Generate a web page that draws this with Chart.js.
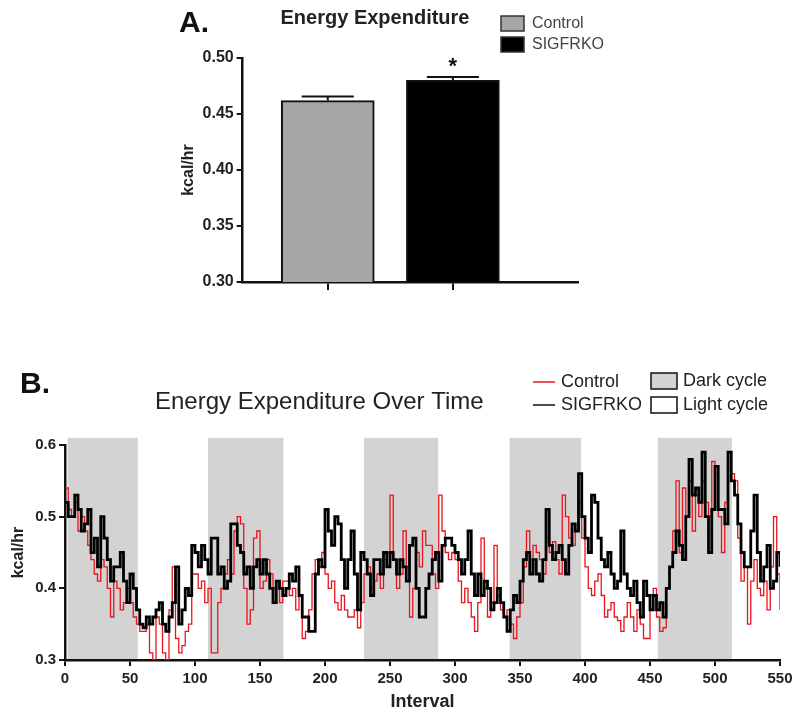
<!DOCTYPE html>
<html>
<head>
<meta charset="utf-8">
<script src="https://cdn.jsdelivr.net/npm/chart.js@4.4.1/dist/chart.umd.min.js"></script>
<style>
    html, body { margin: 0; padding: 0; background: #fff; }
    #wrap { position: relative; width: 800px; height: 716px; }
    #bar-wrap { position: absolute; left: 0; top: 0; width: 800px; height: 360px; }
    #line-wrap { position: absolute; left: 0; top: 360px; width: 800px; height: 356px; }
</style>
</head>
<body>
<div id="wrap">
    <div id="bar-wrap"><canvas id="bar-chart"></canvas></div>
    <div id="line-wrap"><canvas id="line-chart"></canvas></div>
</div>
<script>
// --- Panel A: mean energy expenditure ---
const GROUPS = ['Control', 'SIGFRKO'];
const GROUP_MEANS = [0.462, 0.480];
const GROUP_SEM = [0.0037, 0.0030];
const GROUP_FILLS = ['#a6a6a6', '#000000'];
const BAR_TICKS = [0.30, 0.35, 0.40, 0.45, 0.50];

// --- Panel B: energy expenditure over time (read every 2.5 intervals) ---
const INTERVAL_STEP = 2.5;
const SIGFRKO_SERIES = [
    0.52, 0.50, 0.50, 0.53, 0.51, 0.48, 0.49, 0.51, 0.45, 0.47,
    0.43, 0.50, 0.47, 0.44, 0.41, 0.43, 0.43, 0.45, 0.41, 0.38,
    0.42, 0.40, 0.37, 0.35, 0.345, 0.36, 0.35, 0.36, 0.37, 0.38,
    0.35, 0.34, 0.36, 0.38, 0.43, 0.35, 0.37, 0.40, 0.39, 0.46,
    0.45, 0.43, 0.46, 0.44, 0.42, 0.47, 0.47, 0.42, 0.43, 0.40,
    0.41, 0.49, 0.49, 0.46, 0.45, 0.42, 0.43, 0.40, 0.43, 0.44,
    0.42, 0.44, 0.42, 0.40, 0.38, 0.41, 0.40, 0.39, 0.40, 0.42,
    0.41, 0.43, 0.39, 0.36, 0.36, 0.34, 0.34, 0.42, 0.44, 0.43,
    0.51, 0.48, 0.46, 0.50, 0.49, 0.44, 0.40, 0.44, 0.48, 0.42,
    0.37, 0.45, 0.44, 0.42, 0.39, 0.44, 0.44, 0.42, 0.45, 0.43,
    0.45, 0.44, 0.42, 0.44, 0.43, 0.41, 0.46, 0.47, 0.40, 0.36,
    0.36, 0.40, 0.42, 0.44, 0.45, 0.41, 0.46, 0.47, 0.47, 0.46,
    0.45, 0.44, 0.42, 0.44, 0.48, 0.42, 0.39, 0.42, 0.39, 0.41,
    0.40, 0.37, 0.38, 0.40, 0.38, 0.36, 0.34, 0.37, 0.39, 0.38,
    0.41, 0.44, 0.45, 0.42, 0.44, 0.42, 0.41, 0.44, 0.51, 0.46,
    0.44, 0.45, 0.46, 0.44, 0.42, 0.46, 0.49, 0.48, 0.56, 0.50,
    0.47, 0.45, 0.53, 0.52, 0.47, 0.44, 0.43, 0.45, 0.42, 0.40,
    0.41, 0.48, 0.42, 0.40, 0.39, 0.41, 0.38, 0.36, 0.41, 0.39,
    0.37, 0.39, 0.37, 0.38, 0.36, 0.40, 0.43, 0.45, 0.48, 0.46,
    0.44, 0.50, 0.58, 0.53, 0.54, 0.52, 0.59, 0.50, 0.45, 0.51,
    0.57, 0.51, 0.51, 0.49, 0.59, 0.55, 0.53, 0.49, 0.45, 0.43,
    0.43, 0.48, 0.53, 0.45, 0.41, 0.43, 0.46, 0.40, 0.41, 0.45,
    0.43
];
const CONTROL_SERIES = [
    0.54, 0.51, 0.50, 0.52, 0.48, 0.50, 0.48, 0.46, 0.44, 0.42,
    0.41, 0.44, 0.43, 0.40, 0.36, 0.41, 0.40, 0.37, 0.38, 0.40,
    0.38, 0.36, 0.35, 0.34, 0.34, 0.35, 0.31, 0.30, 0.36, 0.35,
    0.31, 0.30, 0.37, 0.43, 0.33, 0.31, 0.32, 0.34, 0.35, 0.42,
    0.42, 0.40, 0.41, 0.38, 0.40, 0.31, 0.31, 0.38, 0.40, 0.42,
    0.44, 0.42, 0.48, 0.50, 0.49, 0.40, 0.35, 0.37, 0.47, 0.48,
    0.40, 0.41, 0.44, 0.42, 0.40, 0.41, 0.38, 0.41, 0.41, 0.39,
    0.40, 0.37, 0.39, 0.33, 0.34, 0.37, 0.42, 0.44, 0.43, 0.45,
    0.42, 0.40, 0.41, 0.38, 0.37, 0.39, 0.37, 0.36, 0.36, 0.37,
    0.345, 0.38, 0.42, 0.43, 0.40, 0.41, 0.42, 0.40, 0.44, 0.45,
    0.53, 0.44, 0.40, 0.42, 0.48, 0.43, 0.36, 0.40, 0.45, 0.43,
    0.48, 0.46, 0.46, 0.42, 0.40, 0.53, 0.48, 0.45, 0.44, 0.45,
    0.44, 0.41, 0.38, 0.40, 0.38, 0.36, 0.34, 0.38, 0.47, 0.40,
    0.36, 0.38, 0.46, 0.39, 0.37, 0.36, 0.37, 0.35, 0.33, 0.36,
    0.38, 0.43, 0.48, 0.44, 0.46, 0.45, 0.44, 0.42, 0.47, 0.45,
    0.465, 0.44, 0.42, 0.53, 0.50, 0.47, 0.46, 0.48, 0.52, 0.47,
    0.43, 0.40, 0.39, 0.41, 0.42, 0.39, 0.36, 0.37, 0.38, 0.36,
    0.355, 0.34, 0.36, 0.38, 0.36, 0.34, 0.37, 0.35, 0.33, 0.33,
    0.39, 0.40, 0.36, 0.34, 0.345, 0.40, 0.43, 0.48, 0.55, 0.45,
    0.54, 0.50, 0.55, 0.48, 0.53, 0.50, 0.55, 0.52, 0.50, 0.577,
    0.56, 0.50, 0.45, 0.52, 0.59, 0.56, 0.55, 0.47, 0.41, 0.43,
    0.35, 0.41, 0.44, 0.40, 0.39, 0.41, 0.37, 0.43, 0.50, 0.42,
    0.37
];
const DARK_START = [2, 110, 230, 342, 456];
const DARK_END = [56, 168, 287, 397, 513];
const DARK_TOP = 0.61;
const LINE_Y_TICKS = [0.3, 0.4, 0.5, 0.6];
const LINE_X_MAX = 550;

const FONT = "'Liberation Sans', Arial, sans-serif";
const INK = '#111';

// error bars, asterisk, title, legend and panel letter for A
const panelAExtras = {
    id: 'panelAExtras',
    afterDraw(chart) {
        const { ctx } = chart;
        const yScale = chart.scales.y;
        ctx.save();
        ctx.strokeStyle = INK;
        ctx.lineWidth = 2;
        GROUPS.forEach((g, i) => {
            const bar = chart.getDatasetMeta(i).data[0];
            const yMean = yScale.getPixelForValue(GROUP_MEANS[i]);
            const yErr = yScale.getPixelForValue(GROUP_MEANS[i] + GROUP_SEM[i]);
            const half = bar.width * 0.28;
            ctx.beginPath();
            ctx.moveTo(bar.x, yMean);
            ctx.lineTo(bar.x, yErr);
            ctx.moveTo(bar.x - half, yErr);
            ctx.lineTo(bar.x + half, yErr);
            ctx.stroke();
            if (g === 'SIGFRKO') {
                ctx.fillStyle = INK;
                ctx.font = `bold 22px ${FONT}`;
                ctx.textAlign = 'center';
                ctx.textBaseline = 'middle';
                ctx.fillText('*', bar.x, yErr - 10);
            }
        });

        ctx.fillStyle = '#111';
        ctx.textBaseline = 'alphabetic';
        ctx.textAlign = 'left';
        ctx.font = `bold 30px ${FONT}`;
        ctx.fillText('A.', 179, 32);

        ctx.textAlign = 'center';
        ctx.font = `bold 20px ${FONT}`;
        ctx.fillStyle = '#222';
        ctx.fillText('Energy Expenditure', 375, 24);

        // legend
        ctx.textAlign = 'left';
        ctx.textBaseline = 'middle';
        ctx.font = `16px ${FONT}`;
        GROUPS.forEach((g, i) => {
            const top = 16 + i * 21;
            ctx.fillStyle = GROUP_FILLS[i];
            ctx.fillRect(501, top, 23, 15);
            ctx.lineWidth = 1.5;
            ctx.strokeStyle = '#333';
            ctx.strokeRect(501, top, 23, 15);
            ctx.fillStyle = '#444';
            ctx.fillText(g, 532, top + 8);
        });
        ctx.restore();
    }
};

new Chart(document.getElementById('bar-chart'), {
    type: 'bar',
    data: {
        datasets: GROUPS.map((g, i) => ({
            label: g,
            data: [{ x: i + 1, y: [BAR_TICKS[0], GROUP_MEANS[i]] }],
            backgroundColor: GROUP_FILLS[i],
            borderColor: INK,
            borderWidth: 2,
            borderSkipped: 'start',
            barThickness: 93,
            grouped: false
        }))
    },
    options: {
        responsive: true, maintainAspectRatio: false, animation: false,
        layout: { padding: { left: 179, right: 222, top: 58, bottom: 66 } },
        plugins: { legend: { display: false }, tooltip: { enabled: false } },
        scales: {
            x: {
                type: 'linear', min: 0.32, max: 3.0, offset: false,
                afterBuildTicks: s => { s.ticks = GROUPS.map((g, i) => ({ value: i + 1 })); },
                afterFit: s => { s.height = 12; },
                ticks: { callback: () => '' },
                grid: { offset: false, drawOnChartArea: false, tickLength: 8, color: INK, lineWidth: 2 },
                border: { color: INK, width: 2.5 }
            },
            y: {
                min: BAR_TICKS[0], max: BAR_TICKS[BAR_TICKS.length - 1],
                afterBuildTicks: s => { s.ticks = BAR_TICKS.map(v => ({ value: v })); },
                afterFit: s => { s.width = 63.7; },
                ticks: {
                    callback: v => v.toFixed(2),
                    color: '#222', padding: 3,
                    font: { family: FONT, size: 16, weight: 'bold' }
                },
                grid: { drawOnChartArea: false, tickLength: 6, color: INK, lineWidth: 2 },
                border: { color: INK, width: 2.5 },
                title: {
                    display: true, text: 'kcal/hr', color: '#222',
                    padding: { top: 0, bottom: 0 },
                    font: { family: FONT, size: 16, weight: 'bold' }
                }
            }
        }
    },
    plugins: [panelAExtras]
});

// dark cycle shading drawn under the axes and lines
const darkCycles = {
    id: 'darkCycles',
    beforeDraw(chart) {
        const { ctx, scales: { x, y } } = chart;
        ctx.save();
        ctx.fillStyle = '#d3d3d3';
        DARK_START.forEach((start, i) => {
            const x1 = x.getPixelForValue(start);
            const x2 = x.getPixelForValue(DARK_END[i]);
            const y1 = y.getPixelForValue(DARK_TOP);
            const y2 = y.getPixelForValue(LINE_Y_TICKS[0]);
            ctx.fillRect(x1, y1, x2 - x1, y2 - y1);
        });
        ctx.restore();
    }
};

// title, legend and panel letter for B
const panelBExtras = {
    id: 'panelBExtras',
    afterDraw(chart) {
        const { ctx } = chart;
        ctx.save();
        ctx.fillStyle = '#111';
        ctx.textAlign = 'left';
        ctx.textBaseline = 'alphabetic';
        ctx.font = `bold 30px ${FONT}`;
        ctx.fillText('B.', 20, 33);

        ctx.textBaseline = 'middle';
        ctx.font = `24px ${FONT}`;
        ctx.fillStyle = '#222';
        ctx.fillText('Energy Expenditure Over Time', 155, 42);

        ctx.font = `18px ${FONT}`;
        const lines = [
            { label: 'Control', color: '#e8141b', width: 1.5 },
            { label: 'SIGFRKO', color: '#111', width: 1.5 }
        ];
        lines.forEach((l, i) => {
            const yy = 22 + i * 23;
            ctx.strokeStyle = l.color;
            ctx.lineWidth = l.width;
            ctx.beginPath();
            ctx.moveTo(533, yy);
            ctx.lineTo(555, yy);
            ctx.stroke();
            ctx.fillStyle = '#222';
            ctx.fillText(l.label, 561, yy);
        });
        const boxes = [
            { label: 'Dark cycle', fill: '#d3d3d3' },
            { label: 'Light cycle', fill: '#ffffff' }
        ];
        boxes.forEach((b, i) => {
            const top = 13 + i * 24;
            ctx.fillStyle = b.fill;
            ctx.fillRect(651, top, 26, 16);
            ctx.strokeStyle = '#111';
            ctx.lineWidth = 1.5;
            ctx.strokeRect(651, top, 26, 16);
            ctx.fillStyle = '#222';
            ctx.fillText(b.label, 683, top + 8);
        });
        ctx.restore();
    }
};

const toPoints = series => series.map((v, i) => ({ x: i * INTERVAL_STEP, y: v }));

new Chart(document.getElementById('line-chart'), {
    type: 'line',
    data: {
        datasets: [
            {
                label: 'SIGFRKO', data: toPoints(SIGFRKO_SERIES),
                borderColor: '#000', borderWidth: 2.8, pointRadius: 0,
                stepped: true, order: 0
            },
            {
                label: 'Control', data: toPoints(CONTROL_SERIES),
                borderColor: '#e8141b', borderWidth: 1.3, pointRadius: 0,
                stepped: true, order: 1
            }
        ]
    },
    options: {
        responsive: true, maintainAspectRatio: false, animation: false,
        layout: { padding: { left: 0, right: 20, top: 85, bottom: 0 } },
        plugins: { legend: { display: false }, tooltip: { enabled: false } },
        scales: {
            x: {
                type: 'linear', min: 0, max: LINE_X_MAX,
                ticks: {
                    stepSize: 50, color: '#222', padding: 4,
                    font: { family: FONT, size: 15, weight: 'bold' }
                },
                afterFit: s => { s.height = 56; },
                grid: { drawOnChartArea: false, tickLength: 6, color: INK, lineWidth: 2 },
                border: { color: INK, width: 2.5 },
                title: {
                    display: true, text: 'Interval', color: '#222',
                    padding: { top: 0, bottom: 3 },
                    font: { family: FONT, size: 18, weight: 'bold' }
                }
            },
            y: {
                min: LINE_Y_TICKS[0], max: LINE_Y_TICKS[LINE_Y_TICKS.length - 1],
                afterBuildTicks: s => { s.ticks = LINE_Y_TICKS.map(v => ({ value: v })); },
                afterFit: s => { s.width = 65; },
                ticks: {
                    callback: v => v.toFixed(1),
                    color: '#222', padding: 3,
                    font: { family: FONT, size: 15, weight: 'bold' }
                },
                grid: { drawOnChartArea: false, tickLength: 6, color: INK, lineWidth: 2 },
                border: { color: INK, width: 2.5 },
                title: {
                    display: true, text: 'kcal/hr', color: '#222',
                    padding: { top: 9, bottom: 0 },
                    font: { family: FONT, size: 16, weight: 'bold' }
                }
            }
        }
    },
    plugins: [darkCycles, panelBExtras]
});
</script>
</body>
</html>
